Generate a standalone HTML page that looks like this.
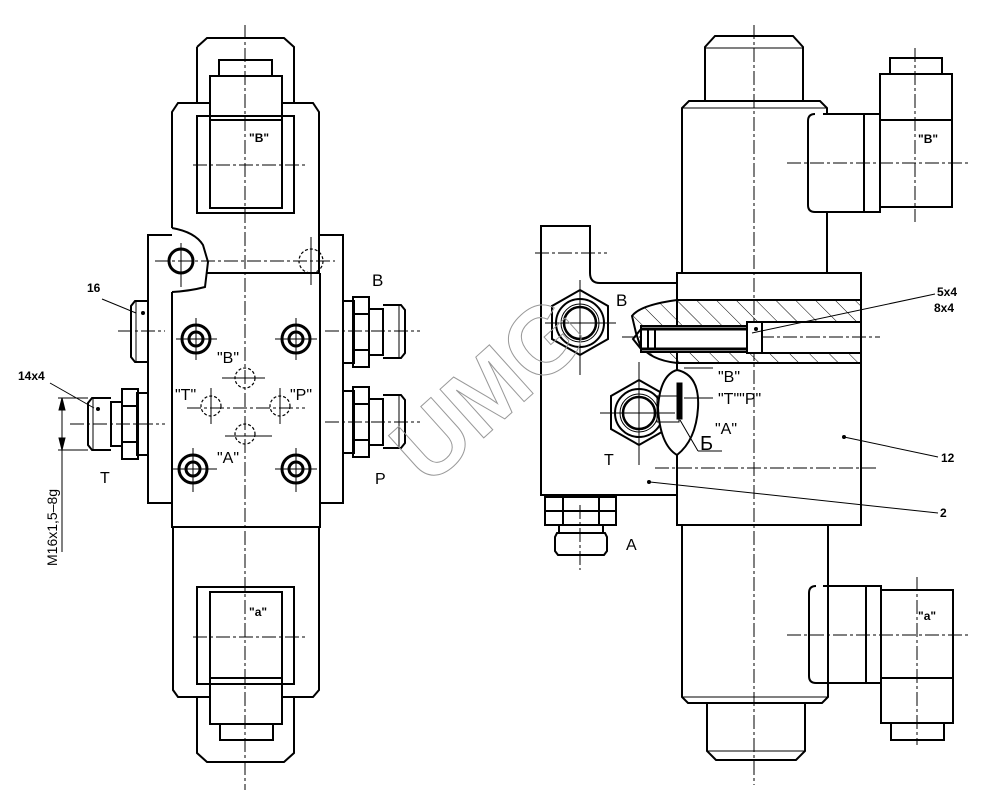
<!DOCTYPE html>
<html><head><meta charset="utf-8"><style>
html,body{margin:0;padding:0;background:#fff;width:1000px;height:806px;overflow:hidden}
svg{display:block}
text{font-family:"Liberation Sans",sans-serif;fill:#000}
</style></head><body>
<svg width="1000" height="806" viewBox="0 0 1000 806" xmlns="http://www.w3.org/2000/svg">
<defs>
<pattern id="hatch" width="14" height="14" patternUnits="userSpaceOnUse" patternTransform="rotate(-45)">
<line x1="0" y1="0" x2="0" y2="14" stroke="#000" stroke-width="1"/>
</pattern>
</defs>
<g fill="none" stroke="#000" stroke-width="2">
<path d="M197,47 L207,38 L284,38 L294,47 L294,103 M197,47 L197,103"/>
<rect x="219" y="60" width="53" height="16"/>
<path d="M172,228 L172,112 L178,103 L209,103 M283,103 L313,103 L319,112 L319,273"/>
<rect x="197" y="116" width="97" height="97"/>
<rect x="210" y="76" width="72" height="132"/>
<line x1="210" y1="120" x2="282" y2="120"/>
<path d="M172,228 Q195,232 203,245 L208,262 L205,287 Q190,291 172,292"/>
<line x1="206" y1="273" x2="320" y2="273"/>
<circle cx="181" cy="261" r="12" stroke-width="3"/>
<circle cx="311" cy="261" r="12" stroke-dasharray="3,2" stroke-width="1.2"/>
<path d="M172,235 L148,235 L148,503 L172,503"/>
<path d="M320,235 L343,235 L343,503 L320,503"/>
<line x1="172" y1="292" x2="172" y2="527"/>
<line x1="320" y1="273" x2="320" y2="527"/>
<line x1="171" y1="527" x2="321" y2="527"/>
<path d="M173,527 L173,690 L178,697 L209,697 M283,697 L313,697 L319,690 L319,527"/>
<rect x="197" y="587" width="97" height="97"/>
<rect x="210" y="592" width="72" height="132"/>
<line x1="210" y1="678" x2="282" y2="678"/>
<rect x="220" y="724" width="53" height="16"/>
<path d="M197,697 L197,753 L207,762 L284,762 L294,753 L294,697"/>
<path d="M148,301 L135,301 L131,306 L131,357 L135,362 L148,362"/>
<line x1="136" y1="301" x2="136" y2="362" stroke-width="1"/>
<rect x="137" y="393" width="11" height="62"/>
<rect x="122" y="389" width="16" height="70"/>
<line x1="122" y1="406" x2="138" y2="406"/><line x1="122" y1="442" x2="138" y2="442"/>
<rect x="111" y="402" width="11" height="44"/>
<path d="M111,398 L92,398 L88,403 L88,445 L92,450 L111,450"/>
<line x1="93" y1="398" x2="93" y2="450" stroke-width="1"/>
<rect x="343" y="301" width="11" height="62"/>
<rect x="353" y="297" width="16" height="70"/>
<line x1="353" y1="314" x2="369" y2="314"/><line x1="353" y1="350" x2="369" y2="350"/>
<rect x="369" y="309" width="14" height="46"/>
<path d="M383,305 L401,305 L405,310 L405,353 L401,358 L383,358"/>
<line x1="399" y1="305" x2="399" y2="358" stroke-width="1"/>
<rect x="343" y="391" width="11" height="62"/>
<rect x="353" y="387" width="16" height="70"/>
<line x1="353" y1="404" x2="369" y2="404"/><line x1="353" y1="440" x2="369" y2="440"/>
<rect x="369" y="399" width="14" height="46"/>
<path d="M383,395 L401,395 L405,400 L405,443 L401,448 L383,448"/>
<line x1="399" y1="395" x2="399" y2="448" stroke-width="1"/>
<g stroke-width="3">
<circle cx="196" cy="339" r="14"/><circle cx="196" cy="339" r="7"/>
<circle cx="296" cy="339" r="14"/><circle cx="296" cy="339" r="7"/>
<circle cx="193" cy="469" r="14"/><circle cx="193" cy="469" r="7"/>
<circle cx="296" cy="469" r="14"/><circle cx="296" cy="469" r="7"/>
</g>
<g stroke-width="1.2" stroke-dasharray="3,2">
<circle cx="245" cy="378" r="10"/><circle cx="211" cy="406" r="10"/>
<circle cx="280" cy="406" r="10"/><circle cx="245" cy="434" r="10"/>
</g>
</g>
<g stroke="#000" stroke-width="1" stroke-dasharray="14,3,3,3" fill="none">
<line x1="245" y1="25" x2="245" y2="790"/>
<line x1="193" y1="165" x2="308" y2="165"/>
<line x1="193" y1="637" x2="308" y2="637"/>
<line x1="155" y1="261" x2="335" y2="261"/>
<line x1="118" y1="331" x2="165" y2="331"/>
<line x1="70" y1="424" x2="165" y2="424"/>
<line x1="325" y1="331" x2="420" y2="331"/>
<line x1="325" y1="422" x2="420" y2="422"/>
<line x1="187" y1="408" x2="305" y2="408"/>
<line x1="754" y1="25" x2="754" y2="785"/>
<line x1="787" y1="163" x2="970" y2="163"/>
<line x1="787" y1="635" x2="970" y2="635"/>
<line x1="915" y1="48" x2="915" y2="222"/>
<line x1="917" y1="577" x2="917" y2="745"/>
<line x1="535" y1="253" x2="607" y2="253"/>
<line x1="622" y1="337" x2="880" y2="337"/>
<line x1="655" y1="468" x2="878" y2="468"/>
<line x1="580" y1="505" x2="580" y2="570"/>
</g>
<g stroke="#000" stroke-width="1" fill="none">
<line x1="196" y1="318" x2="196" y2="360"/><line x1="176" y1="339" x2="217" y2="339"/>
<line x1="296" y1="318" x2="296" y2="360"/><line x1="275" y1="339" x2="317" y2="339"/>
<line x1="193" y1="448" x2="193" y2="492"/><line x1="172" y1="469" x2="217" y2="469"/>
<line x1="296" y1="448" x2="296" y2="492"/><line x1="275" y1="469" x2="317" y2="469"/>
<line x1="222" y1="378" x2="265" y2="378"/><line x1="211" y1="388" x2="211" y2="424"/>
<line x1="280" y1="388" x2="280" y2="424"/><line x1="225" y1="436" x2="272" y2="436"/>
<line x1="181" y1="243" x2="181" y2="287"/><line x1="311" y1="237" x2="311" y2="285"/>
<line x1="58" y1="398" x2="88" y2="398"/><line x1="58" y1="450" x2="88" y2="450"/>
<line x1="62" y1="398" x2="62" y2="552"/>
<path d="M62,398 l-3,12 l6,0 z M62,450 l-3,-12 l6,0 z" fill="#000"/>
<line x1="102" y1="299" x2="136" y2="313"/>
<line x1="50" y1="383" x2="94" y2="408"/>
</g>
<circle cx="143" cy="313" r="2" fill="#000"/>
<circle cx="98" cy="409" r="2" fill="#000"/>
<text x="87" y="292" font-size="12" font-weight="bold">16</text>
<text x="18" y="380" font-size="12" font-weight="bold">14x4</text>
<text transform="translate(57,566) rotate(-90)" font-size="14">M16x1,5–8g</text>
<text x="372" y="286" font-size="17" font-family="Liberation Serif">B</text>
<text x="100" y="483" font-size="16">T</text>
<text x="375" y="484" font-size="16">P</text>
<text x="249" y="142" font-size="12" font-weight="bold">"B"</text>
<text x="249" y="616" font-size="12" font-weight="bold">"a"</text>
<text x="217" y="363" font-size="16">"B"</text>
<text x="175" y="400" font-size="16">"T"</text>
<text x="290" y="400" font-size="16">"P"</text>
<text x="217" y="463" font-size="16">"A"</text>

<g fill="none" stroke="#000" stroke-width="2">
<path d="M705,101 L705,47 L715,36 L793,36 L803,47 L803,101"/>
<line x1="705" y1="48" x2="803" y2="48" stroke-width="1"/>
<path d="M682,273 L682,108 L689,101 L820,101 L827,108 L827,114"/>
<line x1="682" y1="108" x2="827" y2="108" stroke-width="1"/>
<line x1="827" y1="212" x2="827" y2="273"/>
<path d="M823,114 L880,114 L880,212 L815,212 Q808,212 808,205 L808,121 Q808,114 815,114"/>
<line x1="864" y1="114" x2="864" y2="212"/>
<rect x="880" y="74" width="72" height="133"/>
<line x1="880" y1="120" x2="952" y2="120"/>
<rect x="890" y="58" width="52" height="16"/>
<rect x="677" y="273" width="184" height="252"/>
<path d="M682,525 L682,697 L688,703 L822,703 L828,697 L828,586"/>
<line x1="682" y1="697" x2="828" y2="697" stroke-width="1"/>
<path d="M707,703 L707,751 L716,760 L796,760 L805,751 L805,703"/>
<line x1="707" y1="751" x2="805" y2="751" stroke-width="1"/>
<line x1="828" y1="525" x2="828" y2="586"/>
<path d="M823,586 L881,586 L881,683 L816,683 Q809,683 809,676 L809,593 Q809,586 816,586"/>
<line x1="866" y1="586" x2="866" y2="683"/>
<rect x="881" y="590" width="72" height="133"/>
<line x1="881" y1="678" x2="953" y2="678"/>
<rect x="891" y="723" width="53" height="17"/>
<path d="M677,283 L600,283 Q590,283 590,273 L590,226 L541,226 L541,495 L677,495"/>
<rect x="545" y="497" width="71" height="14"/>
<rect x="545" y="511" width="71" height="14"/>
<line x1="563" y1="497" x2="563" y2="525"/><line x1="599" y1="497" x2="599" y2="525"/>
<rect x="559" y="525" width="44" height="8"/>
<path d="M557,533 L605,533 L607,537 L607,551 L604,555 L558,555 L555,551 L555,537 Z"/>
<polygon points="580,290 608,306 608,339 580,355 552,339 552,306"/>
<circle cx="580" cy="323" r="24"/><circle cx="580" cy="323" r="19" stroke-width="1"/><circle cx="580" cy="323" r="16" stroke-width="2.5"/>
<polygon points="639,380 667,396 667,429 639,445 611,429 611,396"/>
<circle cx="639" cy="413" r="24"/><circle cx="639" cy="413" r="19" stroke-width="1"/><circle cx="639" cy="413" r="16" stroke-width="2.5"/>
<path d="M677,300 L861,300 L861,322 L757,322 L757,353 L861,353 L861,362 L677,362 Z" fill="url(#hatch)" stroke="none"/>
<path d="M677,300 Q640,305 632,316 L640,345 Q650,360 677,363" fill="url(#hatch)" stroke="none"/>
<path d="M677,300 L861,300 M861,322 L757,322 M757,353 L861,353 M677,363 L861,363 M677,300 Q640,305 632,316 L636,333 L640,345 Q650,360 677,363"/>
<rect x="641" y="326" width="119" height="26" fill="#fff"/>
<line x1="641" y1="329" x2="758" y2="329" stroke-width="3"/>
<line x1="641" y1="349" x2="758" y2="349" stroke-width="3"/>
<line x1="648" y1="329" x2="648" y2="349"/><line x1="655" y1="329" x2="655" y2="349"/>
<rect x="747" y="322" width="15" height="31" fill="#fff"/>
<path d="M641,329 L633,339 L641,349"/>
<path d="M677,370 Q700,375 698,408 Q696,440 677,455 Q660,445 658,408 Q660,375 677,370" fill="#fff"/>
<rect x="657" y="396" width="22" height="26" stroke-width="1"/>
<rect x="677" y="383" width="5" height="36" fill="#000" stroke-width="1"/>
</g>
<g stroke="#000" stroke-width="1" fill="none">
<line x1="580" y1="280" x2="580" y2="375"/><line x1="545" y1="323" x2="616" y2="323"/>
<line x1="639" y1="362" x2="639" y2="465"/><line x1="600" y1="413" x2="675" y2="413"/>
<line x1="752" y1="333" x2="935" y2="294"/>
<line x1="844" y1="437" x2="938" y2="457"/>
<line x1="650" y1="482" x2="938" y2="513"/>
<line x1="684" y1="368" x2="713" y2="368"/>
<line x1="684" y1="398" x2="713" y2="398"/>
<line x1="680" y1="420" x2="698" y2="451"/><line x1="698" y1="451" x2="722" y2="451"/>
</g>
<circle cx="756" cy="329" r="2" fill="#000"/>
<circle cx="844" cy="437" r="2" fill="#000"/>
<circle cx="649" cy="482" r="2" fill="#000"/>
<text x="937" y="296" font-size="12" font-weight="bold">5x4</text>
<text x="934" y="312" font-size="12" font-weight="bold">8x4</text>
<text x="941" y="462" font-size="12" font-weight="bold">12</text>
<text x="940" y="517" font-size="12" font-weight="bold">2</text>
<text x="616" y="306" font-size="17" font-family="Liberation Serif">B</text>
<text x="604" y="465" font-size="16">T</text>
<text x="626" y="550" font-size="16">A</text>
<text x="718" y="382" font-size="16">"B"</text>
<text x="718" y="404" font-size="16">"T""P"</text>
<text x="700" y="450" font-size="20">Б</text>
<text x="715" y="434" font-size="16">"A"</text>
<text x="918" y="143" font-size="12" font-weight="bold">"B"</text>
<text x="918" y="620" font-size="12" font-weight="bold">"a"</text>
<text transform="translate(428,488) rotate(-42)" font-size="95" font-weight="bold" fill="none" stroke="#999" stroke-width="1" style="fill:none">UMG</text>
</svg>
</body></html>
